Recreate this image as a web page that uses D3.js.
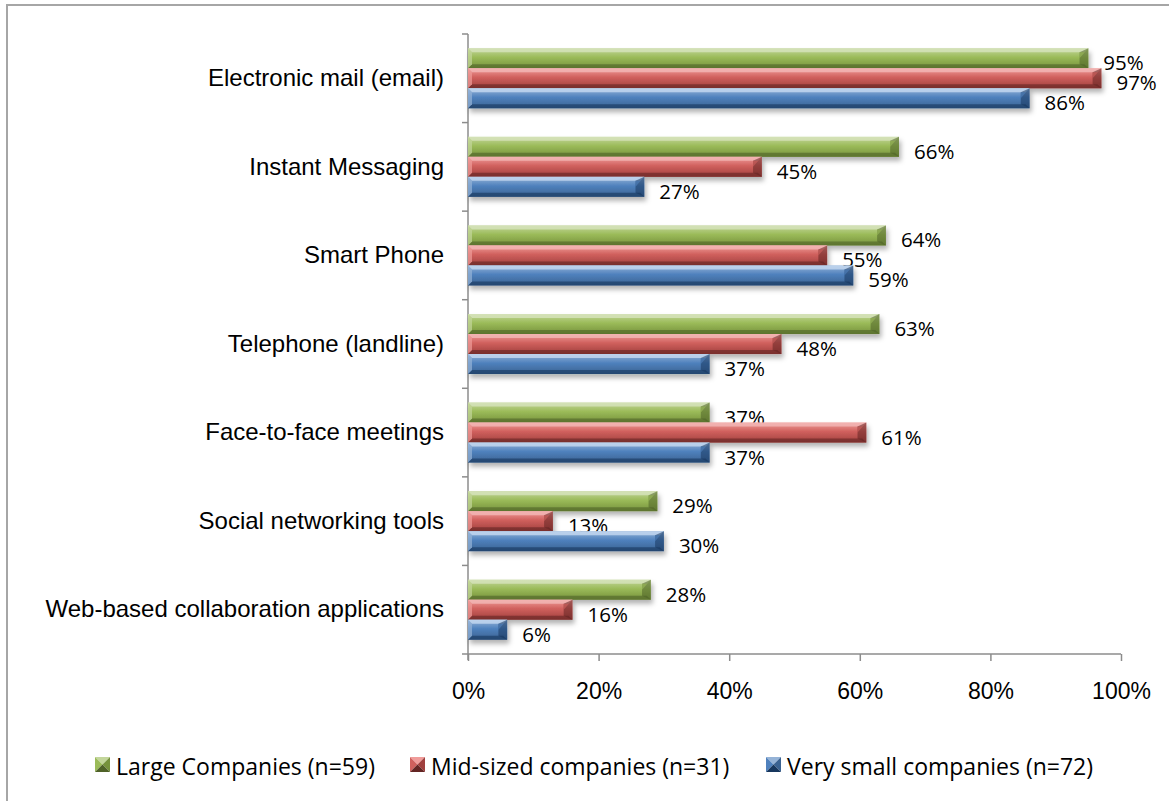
<!DOCTYPE html>
<html>
<head>
<meta charset="utf-8">
<script src="https://cdn.jsdelivr.net/npm/d3@7"></script>
<style>
  body { margin: 0; background: #fff; }
  svg { display: block; font-family: "Open Sans", Lato, sans-serif; }
</style>
</head>
<body>
<svg width="1169" height="801"></svg>
<script>
const categories = [
  "Electronic mail (email)",
  "Instant Messaging",
  "Smart Phone",
  "Telephone (landline)",
  "Face-to-face meetings",
  "Social networking tools",
  "Web-based collaboration applications"
];
const seriesNames = ["Large Companies (n=59)", "Mid-sized companies (n=31)", "Very small companies (n=72)"];
const largeValues = [95, 66, 64, 63, 37, 29, 28];
const midValues = [97, 45, 55, 48, 61, 13, 16];
const smallValues = [86, 27, 59, 37, 37, 30, 6];
const xTicks = [0, 20, 40, 60, 80, 100];

const series = [
  { name: seriesNames[0], values: largeValues, light: "#d7e4bd", top: "#c3d69b", base: "#9bbb59", dark: "#76923c", edge: "#4f6228" },
  { name: seriesNames[1], values: midValues, light: "#f2b8b7", top: "#f09c9a", base: "#d0605d", dark: "#a0403e", edge: "#632523" },
  { name: seriesNames[2], values: smallValues, light: "#c6d9f1", top: "#95b3d7", base: "#4f81bd", dark: "#3a6291", edge: "#17375e" }
];

const svg = d3.select("svg");
const width = +svg.attr("width");
const height = +svg.attr("height");

// outer frame (only top and left visible)
svg.append("path")
  .attr("d", `M7,${height} L7,5 L${width},5`)
  .attr("fill", "none")
  .attr("stroke", "#a6a6a6")
  .attr("stroke-width", 2);

const x = d3.scaleLinear().domain([0, 100]).range([468, 1121]);
const y = d3.scaleBand().domain(categories).range([34, 654]);
const y1 = d3.scaleBand().domain(d3.range(3)).range([14.3, 74.3]);

const defs = svg.append("defs");
series.forEach((s, i) => {
  const g = defs.append("linearGradient").attr("id", "grad" + i)
    .attr("x1", 0).attr("y1", 0).attr("x2", 0).attr("y2", 1);
  g.append("stop").attr("offset", "0%").attr("stop-color", s.top);
  g.append("stop").attr("offset", "45%").attr("stop-color", s.base);
  g.append("stop").attr("offset", "100%").attr("stop-color", s.dark);
});
const f = defs.append("filter").attr("id", "shadow")
  .attr("x", "-10%").attr("y", "-50%").attr("width", "130%").attr("height", "220%");
f.append("feDropShadow").attr("dx", 2).attr("dy", 4).attr("stdDeviation", 2.5)
  .attr("flood-color", "#000").attr("flood-opacity", 0.3);

// axes
const axisColor = "#8c8c8c";
const yAxis = svg.append("g")
  .attr("transform", `translate(${x(0)},0)`)
  .call(d3.axisLeft(y).tickSize(0).tickPadding(24));
yAxis.select(".domain").remove();
yAxis.selectAll("text").attr("font-size", 24).attr("fill", "#000");

// category separators on the y axis
svg.append("g").selectAll("line")
  .data(categories.map(c => y(c)).concat([y.range()[1]]))
  .join("line")
  .attr("x1", x(0) - 6).attr("x2", x(0))
  .attr("y1", d => d).attr("y2", d => d)
  .attr("stroke", axisColor).attr("stroke-width", 1.5);

svg.append("line")
  .attr("x1", x(0)).attr("x2", x(0))
  .attr("y1", y.range()[0]).attr("y2", y.range()[1] + 6)
  .attr("stroke", axisColor).attr("stroke-width", 1.5);

const xAxis = svg.append("g")
  .attr("transform", `translate(0,${y.range()[1]})`)
  .call(d3.axisBottom(x).tickValues(xTicks).tickFormat(d => d + "%").tickSize(7).tickPadding(22));
xAxis.select(".domain").attr("stroke", axisColor).attr("stroke-width", 1.5)
  .attr("d", `M${x(0)},0H${x(100)}`);
xAxis.selectAll(".tick line").attr("stroke", axisColor).attr("stroke-width", 1.5);
xAxis.selectAll("text").attr("font-size", 23).attr("fill", "#000");

// bars, series by series so later bars cover earlier labels
const e = 4;
series.forEach((s, i) => {
  const g = svg.append("g");
  categories.forEach((c, j) => {
    const v = s.values[j];
    const x0 = x(0), x1 = x(v);
    const t = y(c) + y1(i), b = t + y1.bandwidth();
    const bar = g.append("g").attr("filter", "url(#shadow)");
    bar.append("rect").attr("x", x0).attr("y", t).attr("width", x1 - x0).attr("height", b - t)
      .attr("fill", `url(#grad${i})`);
    const poly = pts => pts.map(p => p.join(",")).join(" ");
    g.append("polygon").attr("points", poly([[x0, t], [x1, t], [x1 - e, t + e], [x0 + e, t + e]]))
      .attr("fill", s.light).attr("opacity", 0.8);
    g.append("polygon").attr("points", poly([[x0, b], [x1, b], [x1 - e, b - e], [x0 + e, b - e]]))
      .attr("fill", s.edge).attr("opacity", 0.6);
    g.append("polygon").attr("points", poly([[x1, t], [x1, b], [x1 - 2.2 * e, b - e], [x1 - 2.2 * e, t + e]]))
      .attr("fill", s.edge).attr("opacity", 0.55);
    g.append("polygon").attr("points", poly([[x1, t], [x1 - e, t + e], [x1 - 2.2 * e, t + e], [x1 - 2.2 * e, (t + b) / 2]]))
      .attr("fill", s.base).attr("opacity", 0.6);
    g.append("polygon").attr("points", poly([[x0, t], [x0, b], [x0 + e, b - e], [x0 + e, t + e]]))
      .attr("fill", s.top).attr("opacity", 0.7);
    g.append("text")
      .attr("x", x1 + 15).attr("y", (t + b) / 2 + 4)
      .attr("dominant-baseline", "central")
      .attr("font-size", 20.5)
      .text(v + "%");
  });
});

// legend
const legendX = [95, 410, 766];
const legend = svg.append("g").attr("transform", "translate(0,757)");
series.forEach((s, i) => {
  const lg = legend.append("g").attr("transform", `translate(${legendX[i]},0)`);
  const z = 15, m = z / 2;
  lg.append("polygon").attr("points", `0,0 ${z},0 ${m},${m}`).attr("fill", s.top);
  lg.append("polygon").attr("points", `0,0 0,${z} ${m},${m}`).attr("fill", s.base);
  lg.append("polygon").attr("points", `${z},0 ${z},${z} ${m},${m}`).attr("fill", s.dark);
  lg.append("polygon").attr("points", `0,${z} ${z},${z} ${m},${m}`).attr("fill", s.edge);
  lg.append("text").attr("x", 21).attr("y", m + 1)
    .attr("dominant-baseline", "central")
    .attr("font-size", 23)
    .text(s.name);
});
</script>
</body>
</html>
